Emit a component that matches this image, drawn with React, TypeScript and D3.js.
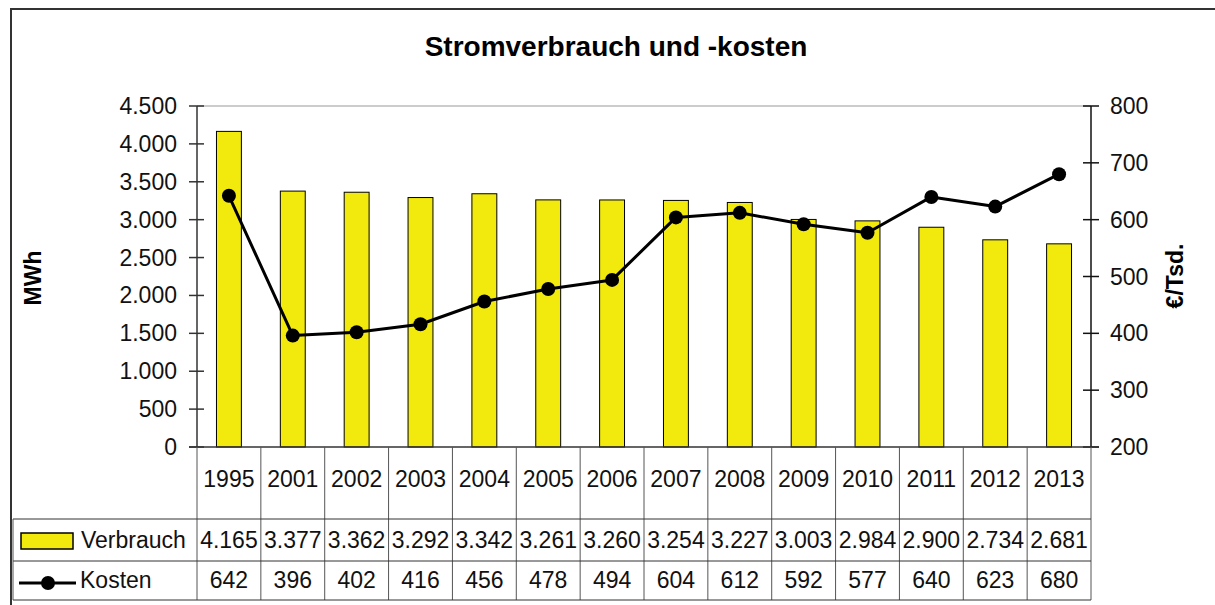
import React from "react";
import * as d3 from "d3";

const years = ["1995", "2001", "2002", "2003", "2004", "2005", "2006", "2007", "2008", "2009", "2010", "2011", "2012", "2013"];
const verbrauch = [4165, 3377, 3362, 3292, 3342, 3261, 3260, 3254, 3227, 3003, 2984, 2900, 2734, 2681];
const kosten = [642, 396, 402, 416, 456, 478, 494, 604, 612, 592, 577, 640, 623, 680];
const leftTicks = [0, 500, 1000, 1500, 2000, 2500, 3000, 3500, 4000, 4500];
const rightTicks = [200, 300, 400, 500, 600, 700, 800];

const W = 1215;
const H = 605;
const plotL = 197;
const plotR = 1091;
const plotT = 106;
const plotB = 447;
const FONT = "'Liberation Sans', Arial, Helvetica, sans-serif";
const YELLOW = "#F2EA0C";

const de = d3.formatLocale({ decimal: ",", thousands: ".", grouping: [3], currency: ["", "€"] });
const fmt = de.format(",d");

export default function App() {
  const x = d3.scaleBand<string>().domain(years).range([plotL, plotR]).paddingInner(0).paddingOuter(0);
  const yL = d3.scaleLinear().domain([0, 4500]).range([plotB, plotT]);
  const yR = d3.scaleLinear().domain([200, 800]).range([plotB, plotT]);
  const bw = x.bandwidth();
  const barW = bw * 0.39;
  const line = d3
    .line<number>()
    .x((_, i) => (x(years[i]) as number) + bw / 2)
    .y((d) => yR(d));

  const rowTop = 519;
  const row2 = 561;
  const tableBottom = 600;
  const tableLeft = 13;
  const boundaries = years.map((y) => x(y) as number).concat([plotR]);

  return (
    <svg width={W} height={H} style={{ position: "absolute", left: 0, top: 0, background: "#fff" }} fontFamily={FONT}>
      <rect x={0} y={0} width={W} height={H} fill="#fff" />
      {/* outer border */}
      <path d={`M11,${H + 2} L11,9 L${W + 2},9`} fill="none" stroke="#333" strokeWidth={2} />

      {/* title */}
      <text x={616} y={56} textAnchor="middle" fontSize={28} fontWeight="bold" fill="#000">
        Stromverbrauch und -kosten
      </text>

      {/* top gridline */}
      <line x1={plotL} x2={plotR} y1={plotT} y2={plotT} stroke="#999" strokeWidth={1} />

      {/* bars */}
      {verbrauch.map((v, i) => {
        const cx = (x(years[i]) as number) + bw / 2;
        return (
          <rect
            key={years[i]}
            x={cx - barW / 2}
            y={yL(v)}
            width={barW}
            height={plotB - yL(v)}
            fill={YELLOW}
            stroke="#000"
            strokeWidth={1}
          />
        );
      })}

      {/* line */}
      <path d={line(kosten) || ""} fill="none" stroke="#000" strokeWidth={3} strokeLinejoin="round" />
      {kosten.map((v, i) => (
        <circle key={i} cx={(x(years[i]) as number) + bw / 2} cy={yR(v)} r={7} fill="#000" />
      ))}

      {/* left axis */}
      <line x1={plotL} x2={plotL} y1={plotT} y2={plotB} stroke="#333" strokeWidth={1.5} />
      {leftTicks.map((t) => (
        <g key={t}>
          <line x1={189} x2={plotL + 7} y1={yL(t)} y2={yL(t)} stroke="#333" strokeWidth={1.5} />
          <text x={177} y={yL(t) + 8} textAnchor="end" fontSize={23} fill="#111">
            {fmt(t)}
          </text>
        </g>
      ))}

      {/* right axis */}
      <line x1={plotR} x2={plotR} y1={plotT} y2={plotB} stroke="#111" strokeWidth={1.5} />
      {rightTicks.map((t) => (
        <g key={t}>
          <line x1={plotR - 8} x2={plotR + 8} y1={yR(t)} y2={yR(t)} stroke="#111" strokeWidth={1.5} />
          <text x={1110} y={yR(t) + 8} textAnchor="start" fontSize={23} fill="#111">
            {fmt(t)}
          </text>
        </g>
      ))}

      {/* x axis */}
      <line x1={189} x2={1099} y1={plotB} y2={plotB} stroke="#333" strokeWidth={1.5} />

      {/* axis titles */}
      <text transform={`translate(41,278) rotate(-90)`} textAnchor="middle" fontSize={23} fontWeight="bold" fill="#000">
        MWh
      </text>
      <text transform={`translate(1183,276) rotate(-90)`} textAnchor="middle" fontSize={23} fontWeight="bold" fill="#000">
        €/Tsd.
      </text>

      {/* data table */}
      {boundaries.map((bx, i) => (
        <line key={i} x1={bx} x2={bx} y1={plotB} y2={tableBottom} stroke="#555" strokeWidth={1} />
      ))}
      {[rowTop, row2, tableBottom].map((ry) => (
        <line key={ry} x1={tableLeft} x2={plotR} y1={ry} y2={ry} stroke="#333" strokeWidth={1} />
      ))}
      <line x1={tableLeft} x2={tableLeft} y1={rowTop} y2={tableBottom} stroke="#555" strokeWidth={1} />

      {years.map((yr, i) => {
        const cx = (x(yr) as number) + bw / 2;
        return (
          <g key={yr}>
            <text x={cx} y={487} textAnchor="middle" fontSize={23} fill="#111">
              {yr}
            </text>
            <text x={cx} y={548} textAnchor="middle" fontSize={23} fill="#111">
              {fmt(verbrauch[i])}
            </text>
            <text x={cx} y={588} textAnchor="middle" fontSize={23} fill="#111">
              {fmt(kosten[i])}
            </text>
          </g>
        );
      })}

      {/* legend keys */}
      <rect x={21} y={533} width={52} height={16} fill={YELLOW} stroke="#000" strokeWidth={1.5} />
      <text x={81} y={548} fontSize={23} fill="#111">
        Verbrauch
      </text>
      <line x1={19} x2={76} y1={583} y2={583} stroke="#000" strokeWidth={3} />
      <circle cx={48} cy={583} r={7} fill="#000" />
      <text x={80} y={588} fontSize={23} fill="#111">
        Kosten
      </text>
    </svg>
  );
}
